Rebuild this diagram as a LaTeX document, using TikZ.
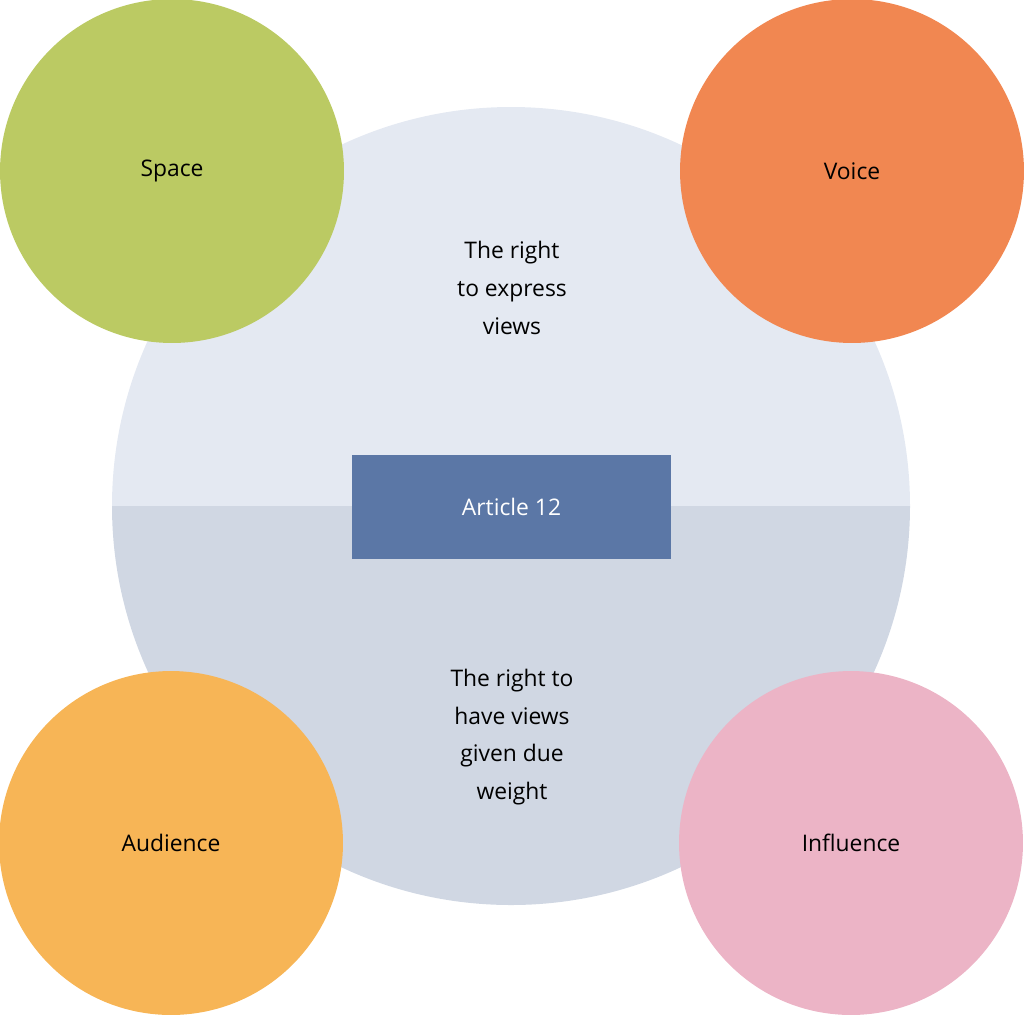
\documentclass[tikz,border=0pt]{standalone}
\usepackage{fontspec}
\setmainfont{Open Sans}
\usepackage{xcolor}
\definecolor{topHalf}{HTML}{E4E9F2}
\definecolor{botHalf}{HTML}{D0D7E3}
\definecolor{artBlue}{HTML}{5B77A6}
\definecolor{spaceGreen}{HTML}{BBCA63}
\definecolor{voiceOrange}{HTML}{F18751}
\definecolor{audYellow}{HTML}{F7B556}
\definecolor{inflPink}{HTML}{ECB4C6}
\tikzset{
  petal/.style={circle, minimum size=6.88cm, inner sep=0pt},
  words/.style={align=center, font=\fontsize{13}{21.5}\selectfont}
}

\begin{document}
\begin{tikzpicture}[x=0.02cm, y=-0.02cm]
    % Rahmen
    \useasboundingbox (0,0) rectangle (1024,1015);

    % großer Kreis, zwei Hälften
    \fill[topHalf] (112,506) arc[start angle=180, end angle=0, x radius=399, y radius=-399] -- cycle;
    \fill[botHalf] (112,506) arc[start angle=180, end angle=360, x radius=399, y radius=-399] -- cycle;

    % Texte im Kreis
    \node[words] (express) at (512,288) {The right\\to express\\views};
    \node[words] (weight) at (512,737) {The right to\\have views\\given due\\weight};

    % Mitte
    \node[fill=artBlue, text=white, words, minimum width=6.38cm, minimum height=2.08cm] (article) at (511.5,507) {Article 12};

    % vier Kreise
    \node[petal, fill=spaceGreen, words] (space) at (172,171) {Space};
    \node[petal, fill=voiceOrange, words] (voice) at (852,171) {Voice};
    \node[petal, fill=audYellow, words] (audience) at (171,843) {Audience};
    \node[petal, fill=inflPink, words] (influence) at (851,843) {Influence};
\end{tikzpicture}
\end{document}
